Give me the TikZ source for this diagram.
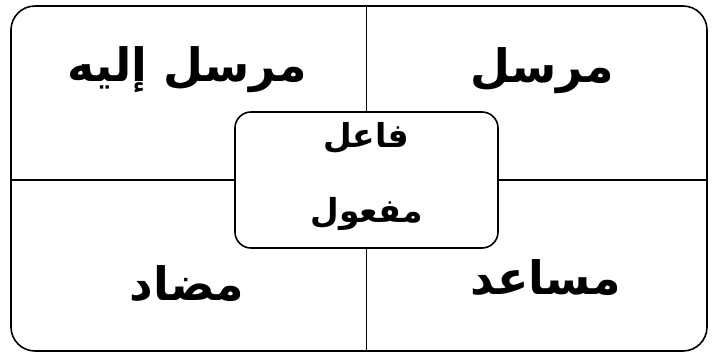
\documentclass[tikz,border=0pt]{standalone}
\usepackage{fontspec}
\usetikzlibrary{calc}
\TeXXeTstate=1
\newfontfamily\arabicfont[Script=Arabic]{DejaVu Sans}
\definecolor{actline}{RGB}{0,0,0}

\begin{document}
\begin{tikzpicture}[x=1pt,y=1pt,
  box/.style={draw=actline,line width=1.6pt,inner sep=0pt},
  role/.style={font=\arabicfont\bfseries\fontsize{46}{52}\selectfont},
  core/.style={font=\arabicfont\bfseries\fontsize{33}{38}\selectfont}]
  \useasboundingbox (0,0) rectangle (715,354);
  \node[box,rounded corners=24pt,minimum width=696pt,minimum height=345pt] (frame) at (359,175.5) {};
  \node[box,rounded corners=16pt,fill=white,minimum width=263pt,minimum height=136pt] (actant) at (366.5,174) {};
  % axes of the actantial model
  \draw[actline,line width=1.6pt] (actant.north) -- (actant.north |- frame.north);
  \draw[actline,line width=1.6pt] (actant.south) -- (actant.south |- frame.south);
  \draw[actline,line width=1.6pt] (actant.west) -- (actant.west -| frame.west);
  \draw[actline,line width=1.6pt] (actant.east) -- (actant.east -| frame.east);
  % roles
  \node[role] (receiver) at (187,284) {\beginR مرسل إليه\endR};
  \node[role] (sender) at (542,283) {\beginR مرسل\endR};
  \node[role] (opponent) at (187,70) {\beginR مضاد\endR};
  \node[role] (helper) at (546,76) {\beginR مساعد\endR};
  \node[core] (subject) at (366.5,216) {\beginR فاعل\endR};
  \node[core] (object) at (366.5,140) {\beginR مفعول\endR};
\end{tikzpicture}
\end{document}
